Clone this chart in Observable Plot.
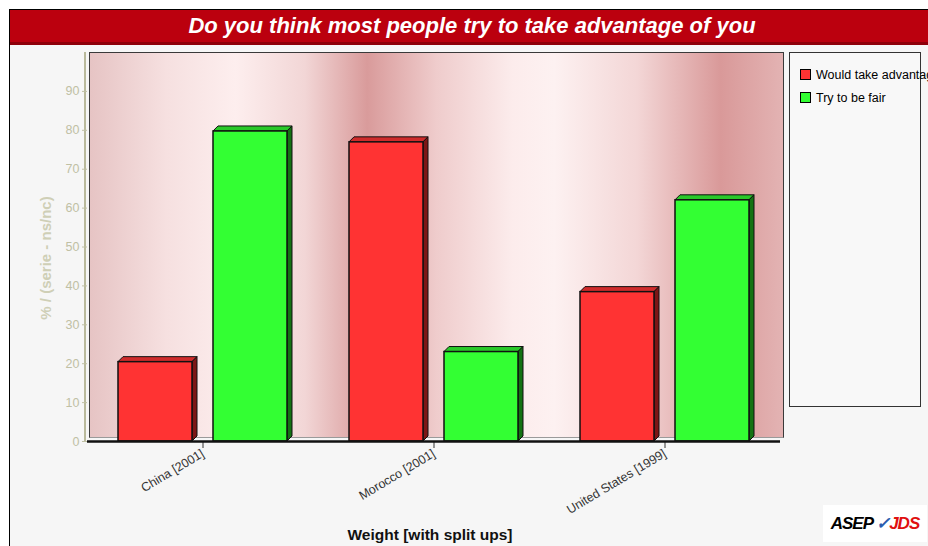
<!DOCTYPE html>
<html>
<head>
<meta charset="utf-8">
<script src="https://cdn.jsdelivr.net/npm/d3@7"></script>
<script src="https://cdn.jsdelivr.net/npm/@observablehq/plot@0.6"></script>
<style>
  html, body { margin: 0; padding: 0; }
  body { width: 928px; height: 546px; overflow: hidden; position: relative; background: #ffffff; font-family: "Liberation Sans", Arial, sans-serif; }
  #frame { position: absolute; left: 9px; top: 9px; width: 940px; height: 560px; border-left: 1px solid #000; border-top: 1px solid #000; background: #f6f6f6; }
  #title { position: absolute; left: 10px; top: 10px; width: 924px; height: 32px; background: #bb000e; border-bottom: 3px solid #8e000a; color: #fff; font-style: italic; font-weight: bold; font-size: 22px; line-height: 32px; text-align: center; }
  #wall { position: absolute; left: 89px; top: 52px; width: 693px; height: 384px; border: 1px solid #3a3a3a; border-bottom: 1px solid #9a9a9a;
    background: linear-gradient(to right, #e6c4c4 0%, #f6e0e0 11%, #fdeeee 21%, #f2d6d6 31%, #d99b9b 40%, #efcccc 50%, #fcecec 61%, #fdf1f1 67%, #f3d6d6 79%, #d99999 91%, #e3b3b3 100%); }
  #yline { position: absolute; left: 84px; top: 52px; width: 2px; height: 390px; background: #b9b99b; }
  #chart { position: absolute; left: 0; top: 45px; }
  #ylabel { position: absolute; left: 45px; top: 258px; transform: translate(-50%, -50%) rotate(-90deg); white-space: nowrap; font-weight: bold; font-size: 15px; color: #cfcfb6; }
  #xlabel { position: absolute; left: 430px; top: 526px; transform: translateX(-50%); white-space: nowrap; font-weight: bold; font-size: 15.5px; color: #111; }
  #legend { position: absolute; left: 789px; top: 52px; width: 130px; height: 353px; border: 1px solid #333; background: #f8f8f8; }
  .item { position: absolute; left: 10px; white-space: nowrap; font-size: 12.5px; color: #000; line-height: 14px; }
  .sw { display: inline-block; width: 9px; height: 9px; border: 1px solid #000; margin-right: 5px; vertical-align: -1px; }
  #logo { position: absolute; left: 823px; top: 505px; width: 104px; height: 37px; background: #fff; font-weight: bold; font-style: italic; font-size: 17px; line-height: 37px; text-align: center; letter-spacing: -1px; }
</style>
</head>
<body>
<div id="frame"></div>
<div id="title">Do you think most people try to take advantage of you</div>
<div id="wall"></div>
<div id="yline"></div>
<div id="chart"></div>
<div id="ylabel">% / (serie - ns/nc)</div>
<div id="xlabel">Weight [with split ups]</div>
<div id="legend"></div>
<div id="logo"><span style="color:#000">ASEP</span> <span style="color:#2a5db0">✓</span><span style="color:#e01010">JDS</span></div>
<script>
// Countries (survey year) and the two answer series, in percent
const countries = ["China [2001]", "Morocco [2001]", "United States [1999]"];
const seriesNames = ["Would take advantage", "Try to be fair"];
const wouldTakeAdvantage = [20.4, 76.9, 38.4];
const tryToBeFair = [79.7, 23.0, 62.0];
const yTicks = [0, 10, 20, 30, 40, 50, 60, 70, 80, 90];

const frontColors = ["#ff3333", "#33ff33"];
const topColors = ["#cf2b2b", "#29c829"];
const sideColors = ["#7c1616", "#137313"];

const rows = countries.flatMap((country, i) => [
  {country, series: seriesNames[0], value: wouldTakeAdvantage[i]},
  {country, series: seriesNames[1], value: tryToBeFair[i]}
]);

// Top and right faces that give each bar its extruded look
const depth = 5;
function extrusion(index, scales) {
  const {x, y} = scales;
  const bw = typeof x.bandwidth === "function" ? x.bandwidth() : x.bandwidth;
  const g = d3.create("svg:g");
  for (const i of index) {
    const r = rows[i];
    const s = seriesNames.indexOf(r.series);
    const x0 = x(r.series), x1 = x0 + bw, yt = y(r.value), yb = y(0);
    g.append("path")
      .attr("d", `M${x0},${yt}L${x0 + depth},${yt - depth}L${x1 + depth},${yt - depth}L${x1},${yt}Z`)
      .attr("fill", topColors[s]).attr("stroke", "#111").attr("stroke-width", 1);
    g.append("path")
      .attr("d", `M${x1},${yt}L${x1 + depth},${yt - depth}L${x1 + depth},${yb - depth}L${x1},${yb}Z`)
      .attr("fill", sideColors[s]).attr("stroke", "#111").attr("stroke-width", 1);
  }
  return g.node();
}

const chart = Plot.plot({
  width: 928,
  height: 501,
  marginTop: 7,
  marginBottom: 105,
  marginLeft: 86,
  marginRight: 147,
  style: {background: "transparent", fontFamily: "'Liberation Sans', Arial, sans-serif", overflow: "visible"},
  fx: {domain: countries, padding: 0},
  x: {domain: seriesNames, paddingInner: 0.219, paddingOuter: 0.316, axis: null},
  y: {domain: [0, 100]},
  color: {domain: seriesNames, range: frontColors},
  marks: [
    Plot.axisY({ticks: yTicks, tickSize: 5, tickPadding: 3, color: "#c0c0a4", fontSize: 12.5, label: null}),
    Plot.axisFx({anchor: "bottom", tickSize: 7, tickPadding: 4, tickRotate: -31, fontSize: 12.5, color: "#333", label: null}),
    Plot.barY(rows, {fx: "country", x: "series", y: "value", render: extrusion}),
    Plot.barY(rows, {fx: "country", x: "series", y: "value", fill: "series", stroke: "#111", strokeWidth: 1.5}),
    Plot.ruleY([0], {stroke: "#111", strokeWidth: 2.5})
  ]
});
document.getElementById("chart").appendChild(chart);

// Legend built from the same series names and colours
const legend = d3.select("#legend");
seriesNames.forEach((name, i) => {
  const item = legend.append("div").attr("class", "item").style("top", `${15 + i * 23}px`);
  item.append("span").attr("class", "sw").style("background", frontColors[i]);
  item.append("span").text(name);
});
</script>
</body>
</html>
